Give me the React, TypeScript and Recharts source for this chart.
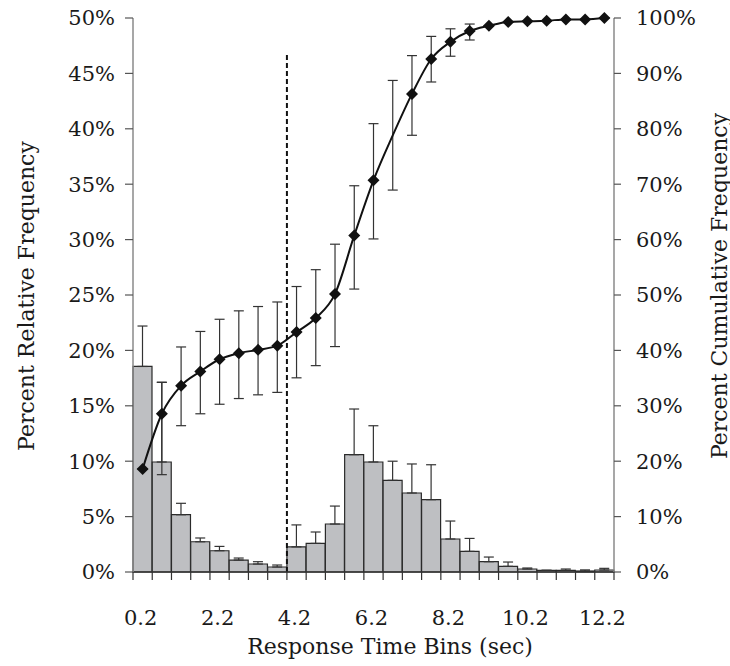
import React from 'react';
import { ComposedChart, Bar, Line, XAxis, YAxis, ErrorBar, ReferenceLine } from 'recharts';

// ── Data ──────────────────────────────────────────────────────
const bins = [
  '0.2', '0.7', '1.2', '1.7', '2.2', '2.7', '3.2', '3.7', '4.2', '4.7', '5.2', '5.7', '6.2',
  '6.7', '7.2', '7.7', '8.2', '8.7', '9.2', '9.7', '10.2', '10.7', '11.2', '11.7', '12.2',
];

// percent relative frequency (bars, left axis)
const relFreq = [
  18.55, 9.93, 5.17, 2.73, 1.92, 1.08, 0.72, 0.45, 2.27, 2.58, 4.33, 10.59, 9.93,
  8.27, 7.13, 6.53, 2.98, 1.86, 0.93, 0.51, 0.27, 0.15, 0.15, 0.09, 0.18,
];
const relErrUp = [
  3.65, 7.2, 1.03, 0.34, 0.39, 0.18, 0.21, 0.18, 1.98, 1.03, 1.62, 4.12, 3.27,
  1.73, 2.62, 3.15, 1.62, 1.17, 0.42, 0.39, 0.09, 0, 0.12, 0.1, 0.15,
];

// percent cumulative frequency (line, right axis)
const cumFreq = [
  18.6, 28.57, 33.63, 36.2, 38.4, 39.5, 40.1, 40.85, 43.3, 45.85, 50.2, 60.75, 70.7,
  78.8, 86.3, 92.6, 95.7, 97.65, 98.6, 99.3, 99.4, 99.5, 99.75, 99.75, 100,
];
const cumErrLow = [
  0, 11.0, 7.22, 7.64, 8.12, 8.19, 8.12, 8.43, 8.25, 8.6, 9.51, 9.68, 10.58,
  9.86, 7.47, 4.15, 2.6, 1.62, 0, 0, 0, 0, 0, 0, 0,
];
const cumErrHigh = [
  0, 5.65, 6.99, 7.22, 7.22, 7.64, 7.82, 7.89, 8.23, 8.72, 8.97, 8.97, 10.23,
  9.93, 6.91, 4.08, 2.35, 1.26, 0, 0, 0, 0, 0, 0, 0,
];

const leftTicks = [0, 5, 10, 15, 20, 25, 30, 35, 40, 45, 50];
const rightTicks = [0, 10, 20, 30, 40, 50, 60, 70, 80, 90, 100];

const cutoffBin = '4.2';
const cutoffTop = 46.7;
const hiddenDot = 13;

const data = bins.map((bin, i) => ({
  bin,
  rel: relFreq[i],
  relErr: [0, relErrUp[i]],
  cum: cumFreq[i],
  cumErr: [cumErrLow[i], cumErrHigh[i]],
}));

const FONT = '"DejaVu Serif", serif';
const INK = '#1a1a1a';
const AXIS_GREY = '#8a8a8a';

// ── Pieces ────────────────────────────────────────────────────
function XTick(props: any) {
  const { x, y, payload } = props;
  const half = payload?.offset || 9.62;
  const i = payload?.index ?? props.index;
  return (
    <g>
      <line x1={x - half} x2={x - half} y1={y} y2={y + 8} stroke="#333" strokeWidth={1.2} />
      {i === bins.length - 1 && (
        <line x1={x + half} x2={x + half} y1={y} y2={y + 8} stroke="#333" strokeWidth={1.2} />
      )}
      {i % 4 === 0 && (
        <text x={x - 2} y={y + 53} textAnchor="middle" fontFamily={FONT} fontSize={21} fill={INK}>
          {payload.value}
        </text>
      )}
    </g>
  );
}

// axis titles; own prop names so the Label clone does not overwrite them
function Title({ tx, ty, rot = 0, text }: { tx: number; ty: number; rot?: number; text: string }) {
  return (
    <text
      x={tx}
      y={ty}
      transform={rot ? `rotate(${rot} ${tx} ${ty})` : undefined}
      textAnchor="middle"
      dominantBaseline="central"
      fontFamily={FONT}
      fontSize={22}
      fill={INK}
    >
      {text}
    </text>
  );
}

function Diamond(props: any) {
  const { cx, cy, index } = props;
  if (cx == null || cy == null || index === hiddenDot) return <g key={`d${index}`} />;
  const r = 6;
  return (
    <path
      key={`d${index}`}
      d={`M${cx},${cy - r}L${cx + r},${cy}L${cx},${cy + r}L${cx - r},${cy}Z`}
      fill="#111"
    />
  );
}

// ── Chart ─────────────────────────────────────────────────────
export default function App() {
  return (
    <div style={{ position: 'absolute', left: 0, top: 0, background: '#fff' }}>
      <ComposedChart
        width={730}
        height={666}
        data={data}
        margin={{ top: 18, right: 0, left: 0, bottom: 0 }}
        barCategoryGap={0}
        barGap={0}
      >
        <XAxis
          dataKey="bin"
          interval={0}
          height={94}
          tickSize={0}
          tickMargin={0}
          tickLine={false}
          axisLine={{ stroke: '#333', strokeWidth: 1.5 }}
          tick={<XTick />}
          label={<Title tx={390} ty={646} text="Response Time Bins (sec)" />}
        />
        <YAxis
          yAxisId="left"
          orientation="left"
          width={133}
          domain={[0, 50]}
          ticks={leftTicks}
          tickFormatter={(v: number) => `${v}%`}
          tickSize={8}
          tickMargin={10}
          axisLine={{ stroke: AXIS_GREY, strokeWidth: 1.5 }}
          tickLine={{ stroke: '#555', strokeWidth: 1.2 }}
          tick={{ fontFamily: FONT, fontSize: 21, fill: INK }}
          label={<Title tx={26} ty={296} rot={-90} text="Percent Relative Frequency" />}
        />
        <YAxis
          yAxisId="right"
          orientation="right"
          width={116}
          domain={[0, 100]}
          ticks={rightTicks}
          tickFormatter={(v: number) => `${v}%`}
          tickSize={7}
          tickMargin={15}
          axisLine={{ stroke: AXIS_GREY, strokeWidth: 1.5 }}
          tickLine={{ stroke: '#555', strokeWidth: 1.2 }}
          tick={{ fontFamily: FONT, fontSize: 21, fill: INK, textAnchor: 'start' }}
          label={<Title tx={719} ty={286} rot={-90} text="Percent Cumulative Frequency" />}
        />
        <Bar
          yAxisId="left"
          dataKey="rel"
          fill="#bebfc2"
          stroke="#2a2a2a"
          strokeWidth={1.2}
          isAnimationActive={false}
        >
          <ErrorBar dataKey="relErr" width={5} stroke="#333" strokeWidth={1.2} isAnimationActive={false} />
        </Bar>
        <ReferenceLine
          yAxisId="left"
          position="start"
          segment={[{ x: cutoffBin, y: 0 }, { x: cutoffBin, y: cutoffTop }]}
          stroke="#111"
          strokeWidth={2}
          strokeDasharray="5 3"
        />
        <Line
          yAxisId="right"
          dataKey="cum"
          type="monotone"
          stroke="#111"
          strokeWidth={2}
          dot={Diamond}
          activeDot={false}
          isAnimationActive={false}
        >
          <ErrorBar dataKey="cumErr" width={5} stroke="#333" strokeWidth={1.2} isAnimationActive={false} />
        </Line>
      </ComposedChart>
    </div>
  );
}
